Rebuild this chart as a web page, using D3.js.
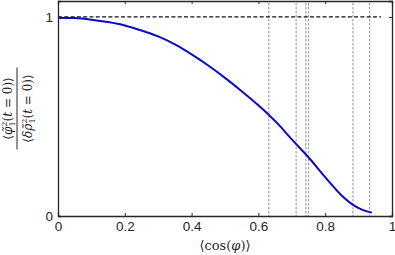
<!DOCTYPE html>
<html>
<head>
<meta charset="utf-8">
<script src="https://cdn.jsdelivr.net/npm/d3@7"></script>
<style>
  body { margin: 0; background: #fff; }
  .tick text { font-family: "Liberation Sans", Arial, sans-serif; font-size: 13.5px; fill: #262626; }
  .math { font-family: "DejaVu Serif", "Liberation Serif", serif; fill: #262626; }
</style>
</head>
<body>
<div id="chart"></div>
<script>
// Curve: <cos(phi)> vs ratio
const cosPhi = [0, 0.05, 0.1, 0.15, 0.2, 0.25, 0.3, 0.35, 0.4, 0.45, 0.5, 0.55, 0.6,
  0.633, 0.66, 0.7, 0.75, 0.8, 0.85, 0.88, 0.91, 0.94];
const ratio = [0.995, 0.994, 0.986, 0.974, 0.957, 0.932, 0.902, 0.862, 0.812, 0.756, 0.694, 0.627, 0.556,
  0.505, 0.46, 0.385, 0.295, 0.195, 0.102, 0.06, 0.032, 0.017];

// vertical marker positions
const markers = [0.631, 0.713, 0.742, 0.750, 0.883, 0.933];

const xTicks = [0, 0.2, 0.4, 0.6, 0.8, 1];
const yTicks = [0, 1];

const W = 395, H = 255;
const margin = { top: 1, right: 3, bottom: 39, left: 58 };
const width = W - margin.left - margin.right;
const height = H - margin.top - margin.bottom;

const x = d3.scaleLinear().domain([0, 1]).range([0, width]);
const y = d3.scaleLinear().domain([0, 1.08]).range([height, 0]);

const svg = d3.select("#chart").append("svg")
  .attr("width", W).attr("height", H);

const g = svg.append("g")
  .attr("transform", "translate(" + margin.left + "," + margin.top + ")");

// grey dashed verticals
g.selectAll(".marker")
  .data(markers)
  .enter().append("line")
    .attr("class", "marker")
    .attr("x1", d => x(d)).attr("x2", d => x(d))
    .attr("y1", 2).attr("y2", height)
    .attr("stroke", "#9a9a9a")
    .attr("stroke-width", 1.1)
    .attr("stroke-dasharray", "2.5,1.5");

// reference line at 1
g.append("line")
  .attr("x1", x(0)).attr("x2", x(0.967))
  .attr("y1", y(1)).attr("y2", y(1))
  .attr("stroke", "#111")
  .attr("stroke-width", 1.3)
  .attr("stroke-dasharray", "4,2.3");

// the curve
const pts = cosPhi.map((c, i) => [c, ratio[i]]);
g.append("path")
  .datum(pts)
  .attr("fill", "none")
  .attr("stroke", "#0a0ac8")
  .attr("stroke-width", 2)
  .attr("d", d3.line().x(d => x(d[0])).y(d => y(d[1])).curve(d3.curveCatmullRom));

// axes, matlab box style with inward ticks
g.append("g")
  .attr("transform", "translate(0," + height + ")")
  .call(d3.axisBottom(x).tickValues(xTicks).tickSize(-3).tickPadding(5)
    .tickFormat(d => d === 0 || d === 1 ? d3.format("d")(d) : d3.format(".1f")(d)));
g.append("g")
  .call(d3.axisTop(x).tickValues(xTicks).tickSize(-3).tickFormat(""));
g.append("g")
  .call(d3.axisLeft(y).tickValues(yTicks).tickSize(-3).tickPadding(5).tickFormat(d3.format("d")));
g.append("g")
  .attr("transform", "translate(" + width + ",0)")
  .call(d3.axisRight(y).tickValues(yTicks).tickSize(-3).tickFormat(""));

g.selectAll(".domain").attr("stroke", "#262626").attr("stroke-width", 1.3);
g.selectAll(".tick line").attr("stroke", "#262626").attr("stroke-width", 1);
g.selectAll(".tick text").attr("font-family", null).attr("font-size", null);

// x label
const xl = svg.append("text")
  .attr("class", "math")
  .attr("x", margin.left + x(0.5))
  .attr("y", 250)
  .attr("text-anchor", "middle")
  .attr("font-size", 13);
xl.append("tspan").text("\u27E8cos(");
xl.append("tspan").attr("font-style", "italic").text("\u03C6");
xl.append("tspan").text(")\u27E9");

// y label (fraction, rotated)
const yl = svg.append("g")
  .attr("transform", "translate(0," + (margin.top + y(0.54)) + ") rotate(-90)");

function frac(sel, baseline, sym) {
  const t = sel.append("text")
    .attr("class", "math")
    .attr("y", baseline)
    .attr("text-anchor", "middle")
    .attr("font-size", 12);
  t.append("tspan").text("\u27E8");
  t.append("tspan").attr("font-style", "italic").text(sym);
  t.append("tspan").attr("font-size", 8).attr("dy", -5).text("2");
  t.append("tspan").attr("font-size", 8).attr("dx", -5).attr("dy", 8).text("1");
  t.append("tspan").attr("dy", -3).text("(");
  t.append("tspan").attr("font-style", "italic").text("t");
  t.append("tspan").text(" = 0)\u27E9");
}
frac(yl, 12, "\u03C6\u0303");
yl.append("line")
  .attr("x1", -41).attr("x2", 41)
  .attr("y1", 17).attr("y2", 17)
  .attr("stroke", "#262626").attr("stroke-width", 1);
frac(yl, 32, "\u03B4\u03C1\u0303");
</script>
</body>
</html>
